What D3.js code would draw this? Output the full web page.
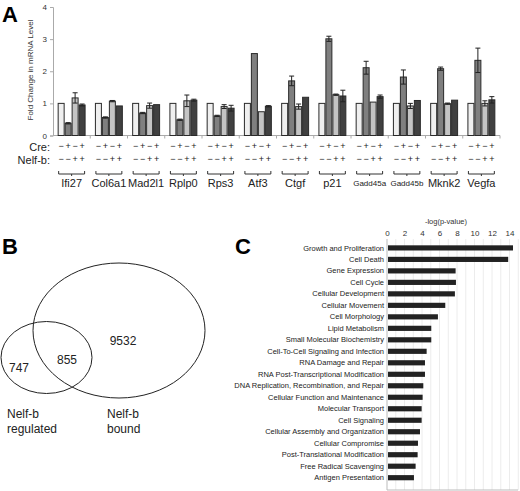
<!DOCTYPE html>
<html><head><meta charset="utf-8">
<script src="https://cdn.jsdelivr.net/npm/d3@7"></script>
<style>body{margin:0;background:#fff}svg{display:block;font-family:"Liberation Sans",Arial,sans-serif}</style>
</head><body>
<svg id="c" width="520" height="491"></svg>
<script>
// ---------- Panel A data ----------
const genes = ["Ifi27","Col6a1","Mad2l1","Rplp0","Rps3","Atf3","Ctgf","p21","Gadd45a","Gadd45b","Mknk2","Vegfa"];
const seriesNames = ["ctrl","cre","nelf","both"];
const creSigns = ["−","+","−","+"];
const nelfSigns = ["−","−","+","+"];
const valsCtrl = [1,1,1,1,1,1,1,1,1,1,1,1];
const valsCre  = [0.38,0.56,0.70,0.49,0.61,2.55,1.70,3.01,2.11,1.82,2.08,2.34];
const valsNelf = [1.17,1.07,0.93,1.08,0.90,0.74,0.90,1.27,1.04,0.92,0.99,1.00];
const valsBoth = [0.95,0.92,0.96,1.10,0.85,0.91,1.19,1.23,1.21,1.09,1.10,1.11];
const errCtrl = [0,0,0,0,0,0,0,0,0,0,0,0];
const errCre  = [0.02,0.02,0.02,0.02,0.02,0,0.15,0.08,0.20,0.22,0.05,0.38];
const errNelf = [0.16,0.02,0.08,0.18,0.06,0,0.08,0.02,0,0.08,0.02,0.08];
const errBoth = [0.03,0,0,0.03,0.09,0.02,0,0.18,0.05,0,0,0.10];
const yTicksA = [0,1,2,3,4];

// ---------- Panel B data ----------
const vennOnlyRegulated = 747, vennBoth = 855, vennOnlyBound = 9532;

// ---------- Panel C data ----------
const categories = ["Growth and Proliferation","Cell Death","Gene Expression","Cell Cycle","Cellular Development","Cellular Movement","Cell Morphology","Lipid Metabolism","Small Molecular Biochemistry","Cell-To-Cell Signaling and Infection","RNA Damage and Repair","RNA Post-Transcriptional Modification","DNA Replication, Recombination, and Repair","Cellular Function and Maintenance","Molecular Transport","Cell Signaling","Cellular Assembly and Organization","Cellular Compromise","Post-Translational Modification","Free Radical Scavenging","Antigen Presentation"];
const logP = [14.4,13.85,7.84,7.88,7.76,6.66,5.82,5.06,5.06,4.53,4.34,4.34,4.15,4.07,3.96,3.96,3.77,3.54,3.5,3.27,3.08];
const xTicksC = [0,2,4,6,8,10,12,14];

const svg = d3.select("#c");

// ================= Panel A =================
const colors = {ctrl:"#efefef",cre:"#7f7f7f",nelf:"#c4c4c4",both:"#404040"};
const valsBy = {ctrl:valsCtrl,cre:valsCre,nelf:valsNelf,both:valsBoth};
const errBy = {ctrl:errCtrl,cre:errCre,nelf:errNelf,both:errBoth};
const xA = d3.scaleBand().domain(genes).range([53,500]).paddingInner(0.25).paddingOuter(0.125);
const xS = d3.scaleBand().domain(seriesNames).range([0,xA.bandwidth()]);
const yA = d3.scaleLinear().domain([0,4]).range([135.5,7]);

svg.append("text").attr("x",2).attr("y",22).attr("font-size",22).attr("font-weight","bold").text("A");

const gy = svg.append("g").attr("transform","translate(53,0)")
  .call(d3.axisLeft(yA).tickValues(yTicksA).tickSize(3).tickPadding(3).tickFormat(d3.format("d")));
gy.selectAll("text").attr("font-size",8).attr("fill","#333").style("font-family","Liberation Sans, Arial");
gy.select(".domain").attr("stroke","#aaa");
gy.selectAll(".tick line").attr("stroke","#aaa");

svg.append("text").attr("transform","translate(33,70) rotate(-90)").attr("text-anchor","middle")
  .attr("font-size",8).attr("fill","#333").text("Fold Change in mRNA Level");

// x baseline
svg.append("line").attr("x1",53).attr("x2",500).attr("y1",yA(0)).attr("y2",yA(0)).attr("stroke","#aaa");
const step = xA.step();
genes.forEach((g,i)=>{
  const xb = xA(g) - step*0.125;
  svg.append("line").attr("x1",xb+step).attr("x2",xb+step).attr("y1",yA(0)).attr("y2",yA(0)+3).attr("stroke","#aaa");
});

const bars = svg.append("g");
genes.forEach((g,i)=>{
  seriesNames.forEach(s=>{
    const v = valsBy[s][i], e = errBy[s][i];
    const x0 = xA(g)+xS(s), w = xS.bandwidth();
    bars.append("rect").attr("x",x0+0.5).attr("y",yA(v)).attr("width",w-1).attr("height",yA(0)-yA(v))
      .attr("fill",colors[s]).attr("stroke","#2a2a2a").attr("stroke-width",1);
    if(e>0){
      const cx = x0+w/2;
      bars.append("line").attr("x1",cx).attr("x2",cx).attr("y1",yA(v+e)).attr("y2",yA(v-e)).attr("stroke","#222");
      [v+e,v-e].forEach(t=>bars.append("line").attr("x1",cx-2.5).attr("x2",cx+2.5).attr("y1",yA(t)).attr("y2",yA(t)).attr("stroke","#222"));
    }
  });
});

// Cre / Nelf-b rows
svg.append("text").attr("x",50).attr("y",151).attr("text-anchor","end").attr("font-size",11).attr("fill","#222").text("Cre:");
svg.append("text").attr("x",50).attr("y",164).attr("text-anchor","end").attr("font-size",11).attr("fill","#222").text("Nelf-b:");
genes.forEach((g,i)=>{
  seriesNames.forEach((s,j)=>{
    const cx = xA(g)+xS(s)+xS.bandwidth()/2;
    svg.append("text").attr("x",cx).attr("y",149).attr("text-anchor","middle").attr("font-size",9).attr("fill","#222").text(creSigns[j]);
    svg.append("text").attr("x",cx).attr("y",162).attr("text-anchor","middle").attr("font-size",9).attr("fill","#222").text(nelfSigns[j]);
  });
  const x1 = xA(g)+1, x2 = xA(g)+xA.bandwidth()-1, xm=(x1+x2)/2;
  svg.append("path").attr("d",`M${x1},171 L${x1},174 L${x2},174 L${x2},171 M${xm},174 L${xm},176`)
    .attr("fill","none").attr("stroke","#333").attr("stroke-width",1);
  const small = g.startsWith("Gadd45");
  svg.append("text").attr("x",xm).attr("y",small?186:187).attr("text-anchor","middle")
    .attr("font-size",small?8:11).attr("fill","#222").text(g);
});

// ================= Panel B =================
svg.append("text").attr("x",2).attr("y",254).attr("font-size",22).attr("font-weight","bold").text("B");
svg.append("ellipse").attr("cx",119).attr("cy",330.5).attr("rx",86).attr("ry",67.5).attr("fill","none").attr("stroke","#222");
svg.append("ellipse").attr("cx",46.5).attr("cy",357.5).attr("rx",45.5).attr("ry",36).attr("fill","none").attr("stroke","#222");
const vt = (x,y,t)=>svg.append("text").attr("x",x).attr("y",y).attr("text-anchor","middle").attr("font-size",12).attr("fill","#222").text(t);
vt(123,345,vennOnlyBound); vt(67,364,vennBoth); vt(19,372,vennOnlyRegulated);
svg.append("text").attr("x",7).attr("y",418).attr("font-size",12).attr("fill","#222").text("Nelf-b");
svg.append("text").attr("x",7).attr("y",433).attr("font-size",12).attr("fill","#222").text("regulated");
svg.append("text").attr("x",107).attr("y",418).attr("font-size",12).attr("fill","#222").text("Nelf-b");
svg.append("text").attr("x",107).attr("y",433).attr("font-size",12).attr("fill","#222").text("bound");

// ================= Panel C =================
svg.append("text").attr("x",235).attr("y",254).attr("font-size",22).attr("font-weight","bold").text("C");
const xC = d3.scaleLinear().domain([0,15]).range([387,518.25]);
const yC = d3.scaleBand().domain(categories).range([239,486.6]).padding(0.55);
const grid = svg.append("g");
d3.range(1,16).forEach(t=>grid.append("line").attr("x1",xC(t)).attr("x2",xC(t)).attr("y1",239).attr("y2",490).attr("stroke","#ececec"));
svg.append("line").attr("x1",387).attr("x2",387).attr("y1",239).attr("y2",490).attr("stroke","#bbb");
svg.append("line").attr("x1",387).attr("x2",518).attr("y1",490).attr("y2",490).attr("stroke","#bbb");
const gx = svg.append("g").attr("transform","translate(0,236)")
  .call(d3.axisTop(xC).tickValues(xTicksC).tickSize(0).tickPadding(0));
gx.select(".domain").remove();
gx.selectAll("text").attr("font-size",8).attr("fill","#333").style("font-family","Liberation Sans, Arial");
svg.append("text").attr("x",446).attr("y",224).attr("text-anchor","middle").attr("font-size",7.5).attr("fill","#333").text("-log(p-value)");
categories.forEach((c,i)=>{
  svg.append("rect").attr("x",xC(0)+1).attr("y",yC(c)).attr("width",xC(logP[i])-xC(0)-1).attr("height",yC.bandwidth()).attr("fill","#222");
  svg.append("text").attr("x",384).attr("y",yC(c)+yC.bandwidth()/2+2.6).attr("text-anchor","end").attr("font-size",7.5).attr("fill","#222").text(c);
});
</script>
</body></html>
